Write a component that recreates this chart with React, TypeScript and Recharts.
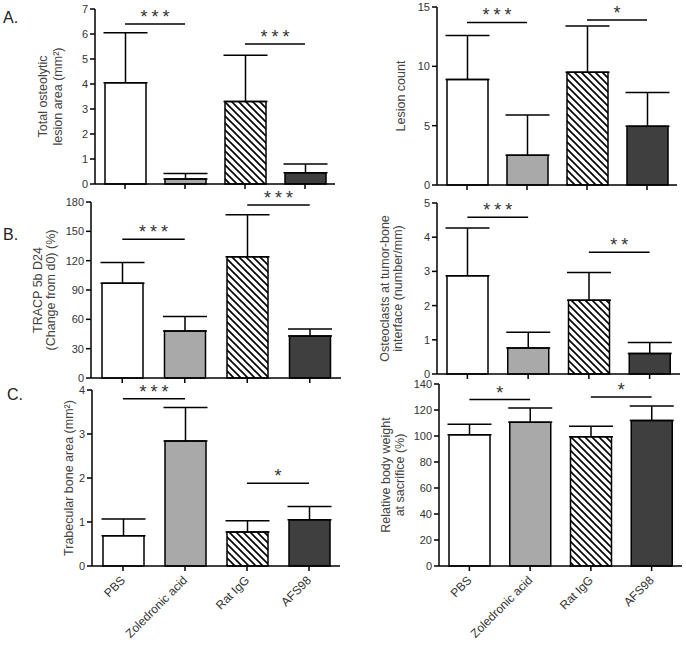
import {
  BarChart,
  Bar,
  XAxis,
  YAxis,
  ErrorBar,
  Cell,
  ReferenceLine,
} from "recharts";

const groups = ["PBS", "Zoledronic acid", "Rat IgG", "AFS98"];
const fills = ["#ffffff", "#a9a9a9", "hatch", "#3f3f3f"];

// means and top of the error bar (mean + SD)
const lesionAreaMean = [4.05, 0.2, 3.3, 0.45];
const lesionAreaTop = [6.05, 0.42, 5.15, 0.8];
const lesionCountMean = [8.9, 2.5, 9.5, 4.95];
const lesionCountTop = [12.6, 5.9, 13.4, 7.8];
const tracpMean = [97, 48, 124, 43];
const tracpTop = [118, 63, 167, 50];
const osteoMean = [2.87, 0.76, 2.16, 0.6];
const osteoTop = [4.27, 1.22, 2.97, 0.92];
const trabMean = [0.69, 2.84, 0.77, 1.05];
const trabTop = [1.07, 3.6, 1.03, 1.35];
const weightMean = [101, 110.5, 99.5, 112];
const weightTop = [109, 121.5, 107.5, 123];

// significance brackets: group index from/to, height in data units
const lesionAreaSig = [
  { from: 0, to: 1, y: 6.4, stars: "***" },
  { from: 2, to: 3, y: 5.6, stars: "***" },
];
const lesionCountSig = [
  { from: 0, to: 1, y: 13.7, stars: "***" },
  { from: 2, to: 3, y: 13.9, stars: "*" },
];
const tracpSig = [
  { from: 0, to: 1, y: 142, stars: "***" },
  { from: 2, to: 3, y: 177, stars: "***" },
];
const osteoSig = [
  { from: 0, to: 1, y: 4.58, stars: "***" },
  { from: 2, to: 3, y: 3.56, stars: "**" },
];
const trabSig = [
  { from: 0, to: 1, y: 3.8, stars: "***" },
  { from: 2, to: 3, y: 1.88, stars: "*" },
];
const weightSig = [
  { from: 0, to: 1, y: 128, stars: "*" },
  { from: 2, to: 3, y: 130, stars: "*" },
];

const FONT = "'Liberation Sans', Arial, sans-serif";

type Sig = { from: number; to: number; y: number; stars: string };

interface PanelProps {
  id: string;
  mean: number[];
  top: number[];
  sig: Sig[];
  yMax: number;
  yTicks: number[];
  yLabel: string[];
  labelOffsets: number[];
  box: { left: number; top: number; right: number; bottom: number };
  showNames: boolean;
}

const StarLabel = (props: any) => {
  const { viewBox, value } = props;
  if (!viewBox) return null;
  const cx = viewBox.x + (viewBox.width || 0) / 2;
  return (
    <text
      x={cx + 2}
      y={viewBox.y - 1}
      textAnchor="middle"
      fontSize={18}
      letterSpacing={4}
      fill="#333"
      fontFamily={FONT}
    >
      {value}
    </text>
  );
};

const NoTick = () => <g />;

const NameTick = (props: any) => {
  const { x, y, payload } = props;
  const tx = x + 3;
  const ty = y + 8;
  return (
    <text
      x={tx}
      y={ty}
      transform={`rotate(-45, ${tx}, ${ty})`}
      textAnchor="end"
      fontSize={12}
      fill="#333"
      fontFamily={FONT}
    >
      {payload.value}
    </text>
  );
};

function Panel(p: PanelProps) {
  const mL = 70;
  const mT = 30;
  const mR = 4;
  const xH = p.showNames ? 78 : 10;
  const plotW = p.box.right - p.box.left;
  const plotH = p.box.bottom - p.box.top;
  const data = groups.map((g, i) => ({
    group: g,
    mean: p.mean[i],
    err: [0, p.top[i] - p.mean[i]],
  }));
  const hatchId = `hatch-${p.id}`;
  const cy = mT + plotH / 2;
  const axisStyle = { stroke: "#000", strokeWidth: 1.5 };

  return (
    <div style={{ position: "absolute", left: p.box.left - mL, top: p.box.top - mT }}>
      <BarChart
        width={plotW + mL + mR}
        height={plotH + mT + xH}
        data={data}
        margin={{ top: mT, right: mR, left: 0, bottom: 0 }}
        barSize={41}
        style={{ overflow: "visible" }}
      >
        <defs>
          <pattern id={hatchId} patternUnits="userSpaceOnUse" width={7} height={7}>
            <rect width={7} height={7} fill="#fff" />
            <path
              d="M-1,-1 L8,8 M-1,6 L1,8 M6,-1 L8,1"
              stroke="#000"
              strokeWidth={1.6}
            />
          </pattern>
        </defs>
        <XAxis
          dataKey="group"
          interval={0}
          height={xH}
          axisLine={axisStyle}
          tickLine={axisStyle}
          tickSize={5}
          tick={p.showNames ? NameTick : NoTick}
        />
        <YAxis
          type="number"
          domain={[0, p.yMax]}
          ticks={p.yTicks}
          interval={0}
          width={mL}
          axisLine={axisStyle}
          tickLine={axisStyle}
          tickSize={5}
          tickMargin={2}
          tick={{ fill: "#333", fontSize: 11, fontFamily: FONT }}
        />
        <Bar dataKey="mean" stroke="#000" strokeWidth={1.5} isAnimationActive={false}>
          {data.map((d, i) => (
            <Cell
              key={d.group}
              fill={fills[i] === "hatch" ? `url(#${hatchId})` : fills[i]}
            />
          ))}
          <ErrorBar
            dataKey="err"
            width={22}
            stroke="#000"
            strokeWidth={1.5}
            direction="y"
            isAnimationActive={false}
          />
        </Bar>
        {p.sig.map((s) => (
          <ReferenceLine
            key={s.from}
            segment={[
              { x: groups[s.from], y: s.y },
              { x: groups[s.to], y: s.y },
            ]}
            stroke="#000"
            strokeWidth={1.5}
            ifOverflow="visible"
            label={(lp: any) => <StarLabel {...lp} value={s.stars} />}
          />
        ))}
        {p.yLabel.map((line, i) => (
          <text
            key={line}
            transform={`translate(${mL - p.labelOffsets[i]},${cy}) rotate(-90)`}
            textAnchor="middle"
            dominantBaseline="central"
            fontSize={12.5}
            fill="#444"
            fontFamily={FONT}
          >
            {line}
          </text>
        ))}
      </BarChart>
    </div>
  );
}

const letterStyle = {
  position: "absolute" as const,
  fontFamily: FONT,
  fontSize: 16,
  color: "#222",
  lineHeight: "16px",
};

export default function App() {
  return (
    <div
      style={{
        position: "absolute",
        left: 0,
        top: 0,
        width: 686,
        height: 645,
        background: "#fff",
        overflow: "hidden",
      }}
    >
      <div style={{ ...letterStyle, left: 3, top: 10 }}>A.</div>
      <div style={{ ...letterStyle, left: 3, top: 227 }}>B.</div>
      <div style={{ ...letterStyle, left: 7, top: 387 }}>C.</div>

      <Panel
        id="a1"
        mean={lesionAreaMean}
        top={lesionAreaTop}
        sig={lesionAreaSig}
        yMax={7}
        yTicks={[0, 1, 2, 3, 4, 5, 6, 7]}
        yLabel={["Total osteolytic", "lesion area (mm²)"]}
        labelOffsets={[52, 37]}
        box={{ left: 95, top: 9, right: 335, bottom: 184 }}
        showNames={false}
      />
      <Panel
        id="a2"
        mean={lesionCountMean}
        top={lesionCountTop}
        sig={lesionCountSig}
        yMax={15}
        yTicks={[0, 5, 10, 15]}
        yLabel={["Lesion count"]}
        labelOffsets={[36]}
        box={{ left: 437, top: 7, right: 677, bottom: 185 }}
        showNames={false}
      />
      <Panel
        id="b1"
        mean={tracpMean}
        top={tracpTop}
        sig={tracpSig}
        yMax={180}
        yTicks={[0, 30, 60, 90, 120, 150, 180]}
        yLabel={["TRACP 5b D24", "(Change from d0) (%)"]}
        labelOffsets={[53, 40]}
        box={{ left: 91, top: 202, right: 341, bottom: 378 }}
        showNames={false}
      />
      <Panel
        id="b2"
        mean={osteoMean}
        top={osteoTop}
        sig={osteoSig}
        yMax={5}
        yTicks={[0, 1, 2, 3, 4, 5]}
        yLabel={["Osteoclasts at tumor-bone", "interface (number/mm)"]}
        labelOffsets={[52, 39]}
        box={{ left: 437, top: 203, right: 680, bottom: 374 }}
        showNames={false}
      />
      <Panel
        id="c1"
        mean={trabMean}
        top={trabTop}
        sig={trabSig}
        yMax={4}
        yTicks={[0, 1, 2, 3, 4]}
        yLabel={["Trabecular bone area (mm²)"]}
        labelOffsets={[23]}
        box={{ left: 92, top: 390, right: 340, bottom: 566 }}
        showNames={true}
      />
      <Panel
        id="c2"
        mean={weightMean}
        top={weightTop}
        sig={weightSig}
        yMax={140}
        yTicks={[0, 20, 40, 60, 80, 100, 120, 140]}
        yLabel={["Relative body weight", "at sacrifice (%)"]}
        labelOffsets={[53, 39]}
        box={{ left: 439, top: 384, right: 682, bottom: 566 }}
        showNames={true}
      />
    </div>
  );
}
